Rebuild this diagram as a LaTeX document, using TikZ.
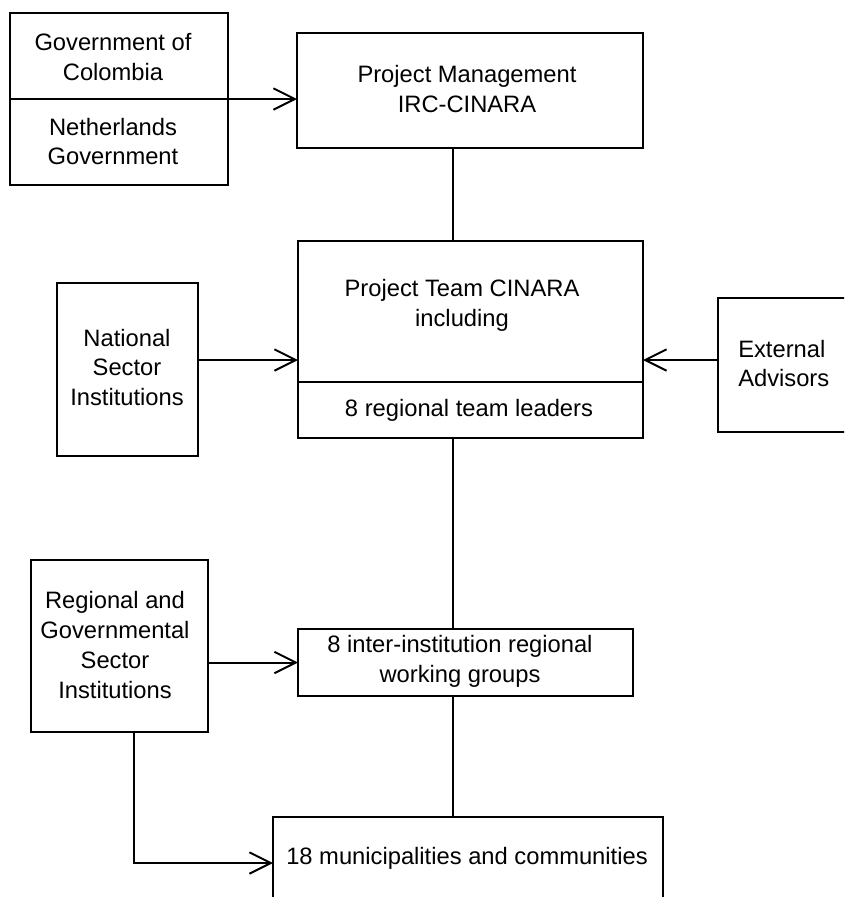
\documentclass[tikz,border=0pt]{standalone}
\usepackage{fontspec}
\setmainfont{Liberation Sans}
\usetikzlibrary{arrows.meta,fit,calc}
\begin{document}
\begin{tikzpicture}[x=0.75pt,y=-0.75pt,
  box/.style={draw,line width=1.5pt,inner sep=0pt,outer sep=0pt,rectangle},
  txt/.style={inner sep=0pt,align=center,font=\fontsize{17.8pt}{22.3pt}\selectfont},
  conn/.style={line width=1.5pt},
  arr/.style={conn,-{Straight Barb[length=16pt,width=16pt]}}]
\clip (0,0) rectangle (844,897);
\fill[white] (0,0) rectangle (844,897);

% boxes
\node[box,fit={(10,13) (228,99)}] (gov1) {};
\node[box,fit={(10,99) (228,185)}] (gov2) {};
\node[box,fit={(297,33) (643,148)}] (pm) {};
\node[box,fit={(298,241) (643,382)}] (team) {};
\node[box,fit={(298,382) (643,438)}] (team2) {};
\node[box,fit={(57,283) (198,456)}] (nat) {};
\node[box,fit={(718,298) (880,432)}] (ext) {};
\node[box,fit={(31,560) (208,732)}] (reg) {};
\node[box,fit={(298,629) (633,696)}] (wg) {};
\node[box,fit={(273,817) (663,930)}] (bot) {};

% texts
\node[txt] (gov1t) at (113,57) {Government of\\Colombia};
\node[txt] (gov2t) at (113,141.5) {Netherlands\\Government};
\node[txt] (pmt) at (467,89) {Project Management\\IRC-CINARA};
\node[txt] (teamt) at (462,305.5) {Project Team CINARA\\including};
\node[txt] (team2t) at (469,410) {8 regional team leaders};
\node[txt] (natt) at (127,367.5) {National\\Sector\\Institutions};
\node[txt,align=left,anchor=west] (extt) at (738,363.5) {External\\Advisors};
\node[txt] (regt) at (115,645) {Regional and\\Governmental\\Sector\\Institutions};
\node[txt] (wgt) at (460,661.5) {8 inter-institution regional\\working groups};
\node[txt] (bott) at (467,858) {18 municipalities and communities};

% helper coordinates
\coordinate (vx) at (453,0);
\coordinate (ay) at (0,360);
\coordinate (bx) at (134,863);

% connectors
\draw[arr] (gov2.north west) -- (gov2.north west -| pm.west);
\draw[conn] (pm.south -| vx) -- (team.north -| vx);
\draw[arr] (nat.east |- ay) -- (team.west |- ay);
\draw[arr] (ext.west |- ay) -- (team.east |- ay);
\draw[conn] (team2.south -| vx) -- (wg.north -| vx);
\draw[arr] (wg.west -| reg.east) -- (wg.west);
\draw[conn] (wg.south -| vx) -- (bot.north -| vx);
\draw[arr] (reg.south -| bx) |- (bot.west |- bx);
\end{tikzpicture}
\end{document}
